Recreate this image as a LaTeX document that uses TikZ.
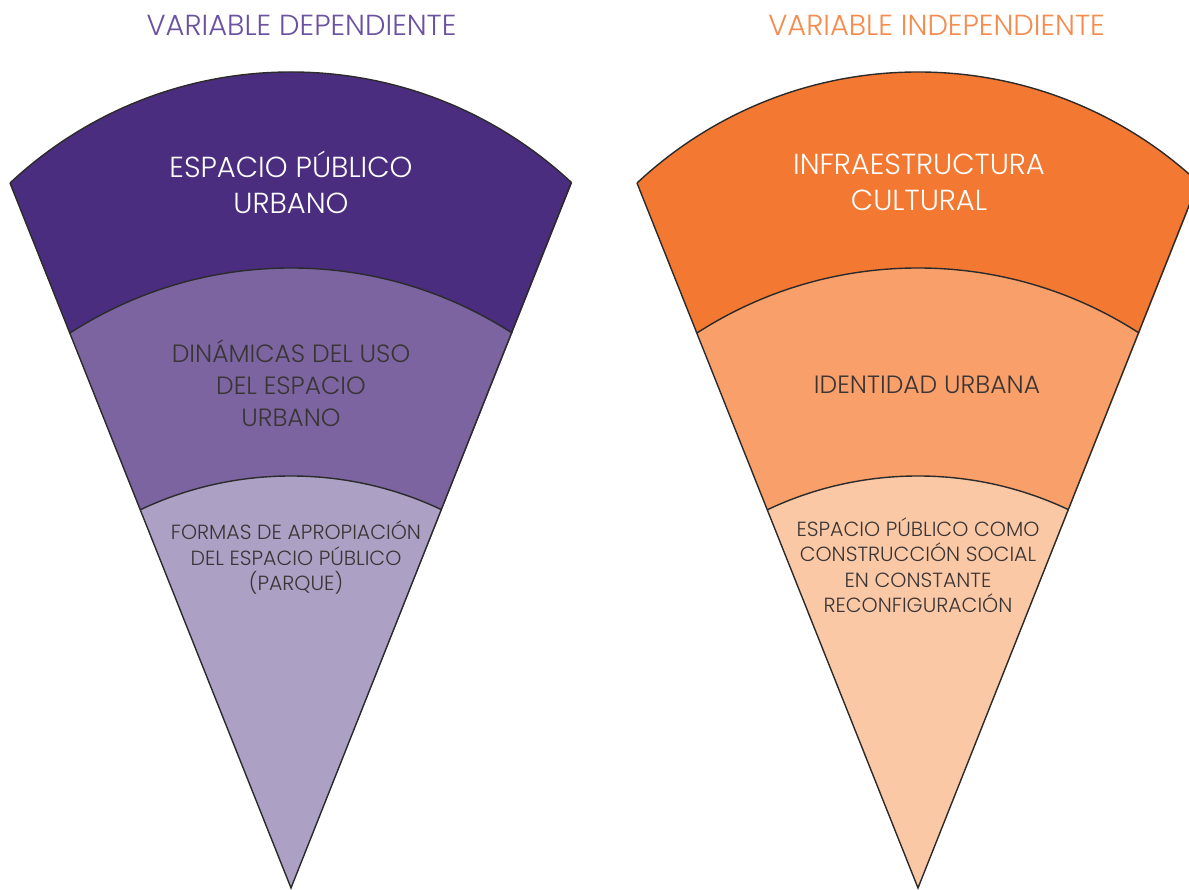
\documentclass[tikz,border=0pt]{standalone}
\usepackage{fontspec}
\setmainfont{Poppins Light}
\definecolor{purpleA}{HTML}{4B2D7F}
\definecolor{purpleB}{HTML}{7B64A0}
\definecolor{purpleC}{HTML}{ACA0C5}
\definecolor{titleP}{HTML}{6B51A1}
\definecolor{orangeA}{HTML}{F37831}
\definecolor{orangeB}{HTML}{F99F69}
\definecolor{orangeC}{HTML}{FBC8A6}
\definecolor{titleO}{HTML}{F58B4C}
\definecolor{linec}{HTML}{2B2B2B}
\definecolor{textd}{HTML}{3A3535}
\tikzset{
  edge/.style={draw=linec, line width=1.4pt},
  lbl/.style={align=center, inner sep=0pt},
  whitetxt/.style={lbl, text=white, font=\fontsize{29}{36}\selectfont},
  midtxt/.style={lbl, text=textd, font=\fontsize{25}{32}\selectfont},
  lowtxt/.style={lbl, text=textd, font=\fontsize{20.5}{25.5}\selectfont},
  titletxt/.style={lbl, font=\fontsize{29}{34}\selectfont},
}
\newcommand\drawcone[4]{%
\begin{scope}[shift={(#1,0)}]
  \begin{scope}
    \clip (291,2) -- (-63,890) -- (645,890) -- cycle;
    \fill[#2] (291,407) circle[radius=411];
    \fill[#3] (291,214) circle[radius=408];
    \fill[#4] (291,62) circle[radius=352];
    \draw[edge] (291,407) circle[radius=411];
    \draw[edge] (291,214) circle[radius=408];
    \draw[edge] (291,62) circle[radius=352];
  \end{scope}
  \draw[edge] (10,707) -- (291,2) -- (571,707);
\end{scope}}
\begin{document}
\begin{tikzpicture}[x=1pt,y=1pt]
  \clip (0,0) rectangle (1189,890);
  \fill[white] (0,0) rectangle (1189,890);
  \drawcone{0}{purpleA}{purpleB}{purpleC}
  \drawcone{627}{orangeA}{orangeB}{orangeC}
  \node[titletxt, text=titleP] (tl) at (301.5,865) {VARIABLE DEPENDIENTE};
  \node[titletxt, text=titleO] (tr) at (936.5,865) {VARIABLE INDEPENDIENTE};
  \node[whitetxt] (l1) at (291,708) {ESPACIO PÚBLICO\\URBANO};
  \node[midtxt] (l2) at (291,507) {DINÁMICAS DEL USO\\DEL ESPACIO\\URBANO};
  \node[lowtxt] (l3) at (296,332) {FORMAS DE APROPIACIÓN\\DEL ESPACIO PÚBLICO\\(PARQUE)};
  \node[whitetxt] (r1) at (919,708) {INFRAESTRUCTURA\\CULTURAL};
  \node[midtxt] (r2) at (927,505) {IDENTIDAD URBANA};
  \node[lowtxt] (r3) at (918,325) {ESPACIO PÚBLICO COMO\\CONSTRUCCIÓN SOCIAL\\EN CONSTANTE\\RECONFIGURACIÓN};
\end{tikzpicture}
\end{document}
